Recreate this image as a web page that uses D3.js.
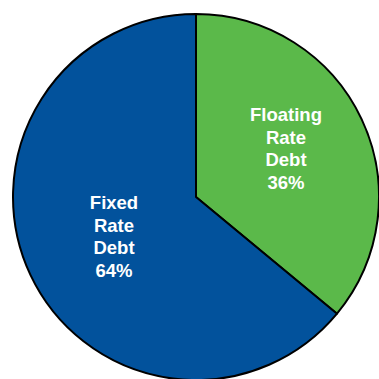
<!DOCTYPE html>
<html><head><meta charset="utf-8">
<script src="https://cdn.jsdelivr.net/npm/d3@7"></script>
<style>html,body{margin:0;padding:0;background:#fff;overflow:hidden}</style>
</head><body>
<svg id="c" width="379" height="379"></svg>
<script>
const categories = ["Floating Rate Debt", "Fixed Rate Debt"];
const labelLines = [["Floating","Rate","Debt","36%"],["Fixed","Rate","Debt","64%"]];
const values = [36, 64];
const colors = ["#5BB94A", "#02529C"];

const svg = d3.select("#c");
const cx = 196, cy = 197, r = 183;
const g = svg.append("g").attr("transform", `translate(${cx},${cy})`);
const pie = d3.pie().sort(null).value(d => d)(values);
const arc = d3.arc().innerRadius(0).outerRadius(r);
g.selectAll("path").data(pie).join("path")
  .attr("d", arc).attr("fill", (d,i) => colors[i])
  .attr("stroke", "#000").attr("stroke-width", 2).attr("stroke-linejoin","round");

const labelPos = [[90, -76], [-82, 12]];
const lh = 22.5;
pie.forEach((d,i) => {
  const t = g.append("text").attr("text-anchor","middle")
    .attr("font-family","Liberation Sans, Arial, sans-serif")
    .attr("font-weight","bold").attr("font-size", 18.5).attr("fill","#fff");
  labelLines[i].forEach((s,j) => {
    t.append("tspan").attr("x", labelPos[i][0]).attr("y", labelPos[i][1] + j*lh).text(s);
  });
});
</script>
</body></html>
